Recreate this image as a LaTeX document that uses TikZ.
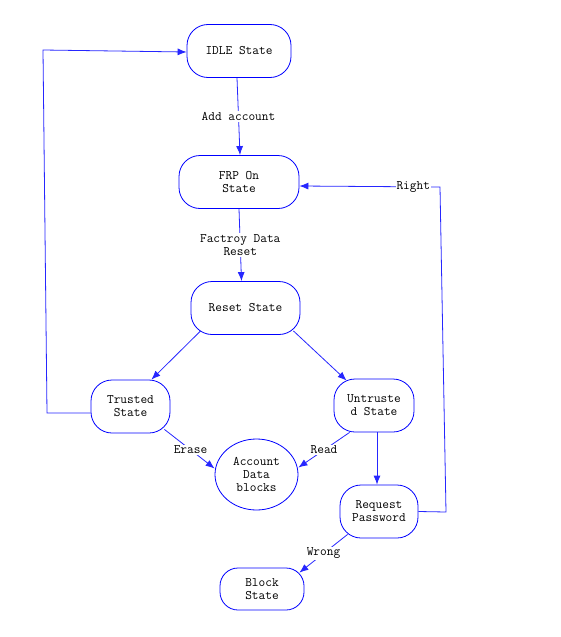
\documentclass[tikz,border=0pt]{standalone}
\usetikzlibrary{arrows.meta,shapes.geometric}
\newcommand{\lblfont}{\ttfamily\fontsize{13}{13}\selectfont}
\begin{document}
\begin{tikzpicture}[x=1pt,y=-1pt,
  state/.style={draw=blue, line width=0.8pt, rounded corners=21pt, minimum height=53pt, align=center, inner sep=0pt, font=\lblfont},
  blob/.style={draw=blue, line width=0.8pt, ellipse, minimum width=83pt, minimum height=71pt, align=center, inner sep=0pt, font=\lblfont},
  conn/.style={draw=blue!85, line width=0.8pt, -{Latex[length=9pt,width=7pt]}},
  lab/.style={fill=white, inner sep=1pt, align=center, font=\lblfont}]
\fill[white] (0,0) rectangle (560,637);
\useasboundingbox (0,0) rectangle (560,637);

\node[state, minimum width=104pt] (idle) at (239,51) {IDLE State};
\node[state, minimum width=120pt] (frp) at (239,182) {FRP On\\State};
\node[state, minimum width=109pt] (reset) at (245.5,308) {Reset State};
\node[state, minimum width=79pt] (trusted) at (130.5,406.5) {Trusted\\State};
\node[state, minimum width=80pt] (untrusted) at (374,405.5) {Untruste\\d State};
\node[blob] (acct) at (256.5,474.5) {Account\\Data\\blocks};
\node[state, minimum width=78pt] (request) at (379,511.5) {Request\\Password};
\node[state, minimum width=84pt, minimum height=42pt, rounded corners=18pt] (block) at (262,589) {Block\\State};

\coordinate (lb) at (47,413);
\coordinate (lt) at (43,50);
\coordinate (rb) at (446,512);
\coordinate (rt) at (440,187);

\draw[conn] ([xshift=-2pt]idle.south) -- node[lab]{Add account} ([xshift=1pt]frp.north);
\draw[conn] (frp.south) -- node[lab]{Factroy Data\\Reset} ([shift={(-4,0)}]reset.north);
\draw[conn] ([shift={(10,-4)}]reset.south west) -- ([shift={(-19,0)}]trusted.north east);
\draw[conn] ([shift={(-7,-4)}]reset.south east) -- ([shift={(13,2)}]untrusted.north west);
\draw[conn] ([shift={(-6,-4)}]trusted.south east) -- node[lab, pos=0.52]{Erase} ([shift={(0,-6)}]acct.west);
\draw[conn] ([shift={(16,0)}]untrusted.south west) -- node[lab, pos=0.5]{Read} ([shift={(0,-7)}]acct.east);
\draw[conn] ([xshift=3pt]untrusted.south) -- ([xshift=-2pt]request.north);
\draw[conn] ([shift={(8,-4)}]request.south west) -- node[lab, pos=0.5]{Wrong} ([shift={(-5,5)}]block.north east);
\draw[conn] (request.east) -- (rb) -- (rt) -- node[lab, pos=0.19]{Right} ([yshift=-4pt]frp.east);
\draw[conn] ([yshift=-6.5pt]trusted.west) -- (lb) -- (lt) -- ([yshift=-1pt]idle.west);
\end{tikzpicture}
\end{document}
